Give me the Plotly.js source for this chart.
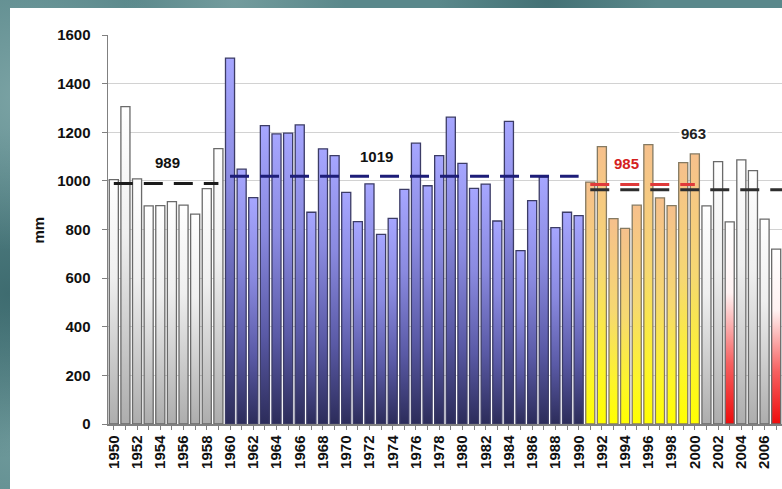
<!DOCTYPE html>
<html>
<head>
<meta charset="utf-8">
<script src="https://cdn.plot.ly/plotly-3.0.1.min.js"></script>
<style>
html,body{margin:0;padding:0;width:782px;height:489px;overflow:hidden;}
body{
  background-color:#5a888b;
  background-image:
    radial-gradient(circle at 3% 20%, rgba(150,185,185,0.55), transparent 18%),
    radial-gradient(circle at 1% 60%, rgba(40,85,90,0.55), transparent 20%),
    radial-gradient(circle at 30% 0%, rgba(140,175,175,0.5), transparent 15%),
    radial-gradient(circle at 70% 0%, rgba(45,90,95,0.5), transparent 15%),
    radial-gradient(circle at 2% 90%, rgba(130,170,170,0.5), transparent 15%);
}
#panel{position:absolute;left:10px;top:8px;width:772px;height:481px;background:#ffffff;}
#chart{position:absolute;left:0;top:0;width:782px;height:489px;}
</style>
</head>
<body>
<div id="panel"></div>
<div id="chart"></div>
<script>
// ---- data ----
const years = [1950,1951,1952,1953,1954,1955,1956,1957,1958,1959,
               1960,1961,1962,1963,1964,1965,1966,1967,1968,1969,
               1970,1971,1972,1973,1974,1975,1976,1977,1978,1979,
               1980,1981,1982,1983,1984,1985,1986,1987,1988,1989,
               1990,1991,1992,1993,1994,1995,1996,1997,1998,1999,
               2000,2001,2002,2003,2004,2005,2006,2007];
const precipitation = [1005,1305,1008,897,898,915,900,863,968,1133,
                       1505,1048,931,1227,1193,1196,1230,871,1132,1104,
                       953,832,988,780,846,965,1155,980,1104,1262,
                       1072,969,987,835,1245,713,919,1017,808,871,
                       857,995,1141,845,805,900,1149,930,898,1075,
                       1111,897,1079,831,1086,1042,843,719];
const labelYears = [1950,1952,1954,1956,1958,1960,1962,1964,1966,1968,
                    1970,1972,1974,1976,1978,1980,1982,1984,1986,1988,
                    1990,1992,1994,1996,1998,2000,2002,2004,2006];
const bluePeriod = [1960, 1990];
const yellowPeriod = [1991, 2000];
const redYears = [2003, 2007];
const meanValues = [989, 1019, 985, 963];
const meanStart  = [1950, 1960, 1991, 1991];
const meanEnd    = [1959, 1990, 2000, 2007.5];

// ---- build ----
function groupOf(y){
  if (redYears.includes(y)) return 'red';
  if (y >= bluePeriod[0] && y <= bluePeriod[1]) return 'blue';
  if (y >= yellowPeriod[0] && y <= yellowPeriod[1]) return 'yellow';
  return 'gray';
}
const groupStyle = {
  gray:   {color:'#e6e6e6', line:'#6a6a6a'},
  blue:   {color:'#7a7ad8', line:'#3c3c66'},
  yellow: {color:'#f8dc70', line:'#857a62'},
  red:    {color:'#f08080', line:'#6a6a6a'}
};
const data = [];
['gray','blue','yellow','red'].forEach(g => {
  const xs = [], ys = [];
  years.forEach((y,i) => { if (groupOf(y) === g) { xs.push(y); ys.push(precipitation[i]); } });
  data.push({
    type:'bar', name:g, x:xs, y:ys, width:0.78,
    marker:{color:groupStyle[g].color, line:{color:groupStyle[g].line, width:1.3}},
    hoverinfo:'skip', showlegend:false
  });
});
const meanColors = ['#1b1b1b','#1d1d78','#e03a3a','#2e2e2e'];
meanValues.forEach((m,i) => {
  data.push({
    type:'scatter', mode:'lines',
    x:[meanStart[i], meanEnd[i]], y:[m, m],
    line:{color:meanColors[i], width:3, dash:'19px,11px'},
    hoverinfo:'skip', showlegend:false
  });
});

const font = {family:'"Liberation Sans", Arial, sans-serif', size:15, color:'#111', weight:'bold'};
const annPos = [
  {x:1954.66, y:1074, color:'#111'},
  {x:1972.62, y:1102, color:'#111'},
  {x:1994.14, y:1072, color:'#d42020'},
  {x:1999.87, y:1196, color:'#222', bg:'#ffffff'}
];
const annotations = meanValues.map((m,i) => ({
  x:annPos[i].x, y:annPos[i].y, xref:'x', yref:'y', text:String(m), showarrow:false,
  font:{family:font.family, size:15, color:annPos[i].color, weight:'bold'},
  bgcolor:annPos[i].bg || 'rgba(0,0,0,0)', borderpad:1
}));
annotations.push({
  xref:'paper', yref:'paper', x:-0.1024, y:0.5, xanchor:'center', yanchor:'middle',
  text:'mm', textangle:-90, showarrow:false,
  font:{family:font.family, size:15, color:'#111', weight:'bold'}
});

const layout = {
  width:782, height:489,
  margin:{l:108, r:0, t:35, b:65, pad:0},
  paper_bgcolor:'rgba(0,0,0,0)', plot_bgcolor:'rgba(0,0,0,0)',
  barmode:'overlay',
  xaxis:{
    range:[1949.5, 2007.5], tickmode:'array', tickvals:years,
    ticktext:years.map(y => labelYears.includes(y) ? String(y) : ''),
    tickangle:-90, tickfont:font, ticks:'outside', ticklen:4, tickcolor:'#808080',
    showline:true, linecolor:'#808080', linewidth:1.5, showgrid:false, zeroline:false
  },
  yaxis:{
    range:[0,1600], dtick:200, tick0:0, tickfont:font, ticks:'outside', ticklen:5,
    tickcolor:'#808080', ticklabelstandoff:8,
    showline:true, linecolor:'#808080', linewidth:1.5,
    showgrid:true, gridcolor:'#d2d2d2', gridwidth:1, zeroline:false
  },
  annotations:annotations
};

const gradients = {
  gray:   [[0,'#ffffff'],[0.4,'#efefef'],[1,'#adadad']],
  blue:   [[0,'#a6a6ff'],[0.35,'#8a8ae0'],[0.7,'#5a5aa6'],[1,'#2c2c5a']],
  yellow: [[0,'#f6c08c'],[0.45,'#f6d872'],[0.8,'#fdf52a'],[1,'#ffff00']],
  red:    [[0,'#ffffff'],[0.35,'#fff2f2'],[0.7,'#f66060'],[1,'#ee0c0c']]
};

Plotly.newPlot('chart', data, layout, {staticPlot:true, displayModeBar:false}).then(gd => {
  const NS = 'http://www.w3.org/2000/svg';
  const svg = gd.querySelector('svg.main-svg');
  let defs = svg.querySelector('defs');
  if (!defs) { defs = document.createElementNS(NS,'defs'); svg.insertBefore(defs, svg.firstChild); }
  Object.keys(gradients).forEach(k => {
    const lg = document.createElementNS(NS,'linearGradient');
    lg.setAttribute('id','grad-'+k);
    lg.setAttribute('x1','0'); lg.setAttribute('y1','0');
    lg.setAttribute('x2','0'); lg.setAttribute('y2','1');
    gradients[k].forEach(s => {
      const st = document.createElementNS(NS,'stop');
      st.setAttribute('offset', s[0]);
      st.setAttribute('stop-color', s[1]);
      lg.appendChild(st);
    });
    defs.appendChild(lg);
  });
  const order = ['gray','blue','yellow','red'];
  gd.querySelectorAll('g.trace.bars').forEach((g, i) => {
    let name = order[i];
    try { name = g.__data__[0].trace.name || name; } catch(e) {}
    g.querySelectorAll('path').forEach(p => { p.style.fill = 'url(#grad-' + name + ')'; });
  });
});
</script>
</body>
</html>
